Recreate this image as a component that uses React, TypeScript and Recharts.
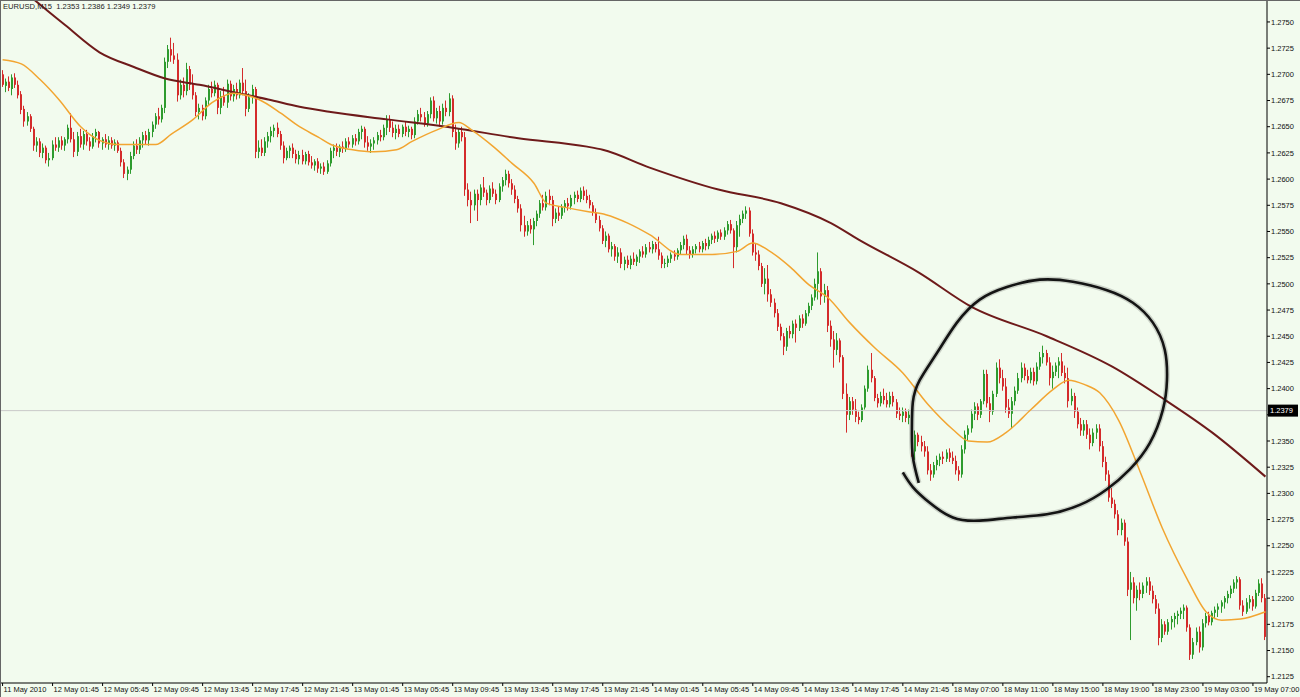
import React from 'react';
import { ComposedChart, Bar, Line, XAxis, YAxis, ReferenceLine } from 'recharts';

const W = 1300;
const H = 697;
const BG = '#F2FBEE';
const UP = '#2E9B2E';
const DOWN = '#D42B2B';
const FAST = '#F2A531';
const SLOW = '#6E1A1A';
const FONT = '"Liberation Sans", Arial, sans-serif';

const TITLE = 'EURUSD,M15  1.2353 1.2386 1.2349 1.2379';
const CURRENT_PRICE = 1.2379;

const xTickBars = [0, 16, 32, 48, 64, 80, 96, 112, 128, 144, 160, 176, 192, 208, 224, 240, 256, 272, 288, 304, 320, 336, 352, 368, 384, 400];
const xTickLabels = ['11 May 2010', '12 May 01:45', '12 May 05:45', '12 May 09:45', '12 May 13:45', '12 May 17:45', '12 May 21:45', '13 May 01:45', '13 May 05:45', '13 May 09:45', '13 May 13:45', '13 May 17:45', '13 May 21:45', '14 May 01:45', '14 May 05:45', '14 May 09:45', '14 May 13:45', '14 May 17:45', '14 May 21:45', '18 May 07:00', '18 May 11:00', '18 May 15:00', '18 May 19:00', '18 May 23:00', '19 May 03:00', '19 May 07:00'];
const yTicks = [1.2125, 1.215, 1.2175, 1.22, 1.2225, 1.225, 1.2275, 1.23, 1.2325, 1.235, 1.2375, 1.24, 1.2425, 1.245, 1.2475, 1.25, 1.2525, 1.255, 1.2575, 1.26, 1.2625, 1.265, 1.2675, 1.27, 1.2725, 1.275];

const openP = [
1.2700,1.2689,1.2693,1.2686,1.2697,1.2690,1.2681,1.2667,1.2655,1.2660,1.2648,1.2632,1.2636,1.2625,1.2630,1.2618,
1.2620,1.2633,1.2630,1.2637,1.2632,1.2638,1.2649,1.2638,1.2626,1.2641,1.2633,1.2643,1.2636,1.2631,1.2641,1.2645,
1.2634,1.2638,1.2633,1.2637,1.2632,1.2635,1.2627,1.2616,1.2605,1.2609,1.2622,1.2632,1.2628,1.2637,1.2642,1.2637,
1.2645,1.2652,1.2660,1.2657,1.2668,1.2712,1.2724,1.2718,1.2714,1.2680,1.2690,1.2684,1.2705,1.2690,1.2680,1.2664,
1.2668,1.2660,1.2675,1.2686,1.2682,1.2690,1.2668,1.2679,1.2673,1.2691,1.2679,1.2686,1.2680,1.2692,1.2684,1.2667,
1.2678,1.2686,1.2626,1.2630,1.2625,1.2636,1.2641,1.2646,1.2649,1.2643,1.2632,1.2620,1.2627,1.2630,1.2624,1.2619,
1.2623,1.2617,1.2624,1.2616,1.2613,1.2617,1.2610,1.2612,1.2607,1.2615,1.2627,1.2630,1.2626,1.2631,1.2629,1.2636,
1.2633,1.2639,1.2636,1.2645,1.2648,1.2635,1.2631,1.2634,1.2637,1.2642,1.2640,1.2649,1.2657,1.2649,1.2644,1.2648,
1.2643,1.2650,1.2645,1.2648,1.2642,1.2655,1.2662,1.2659,1.2653,1.2662,1.2675,1.2658,1.2665,1.2655,1.2668,1.2664,
1.2677,1.2645,1.2634,1.2645,1.2640,1.2590,1.2580,1.2575,1.2586,1.2580,1.2592,1.2587,1.2580,1.2591,1.2586,1.2580,
1.2593,1.2599,1.2605,1.2596,1.2590,1.2581,1.2572,1.2556,1.2550,1.2556,1.2552,1.2560,1.2567,1.2577,1.2573,1.2584,
1.2580,1.2562,1.2568,1.2565,1.2573,1.2577,1.2574,1.2582,1.2585,1.2581,1.2589,1.2584,1.2580,1.2575,1.2568,1.2561,
1.2553,1.2541,1.2546,1.2533,1.2536,1.2526,1.2530,1.2519,1.2523,1.2518,1.2524,1.2521,1.2526,1.2531,1.2528,1.2535,
1.2533,1.2538,1.2533,1.2527,1.2519,1.2520,1.2524,1.2528,1.2526,1.2532,1.2537,1.2543,1.2532,1.2528,1.2533,1.2536,
1.2533,1.2539,1.2536,1.2542,1.2546,1.2543,1.2549,1.2545,1.2551,1.2557,1.2551,1.2535,1.2556,1.2562,1.2567,1.2570,
1.2548,1.2530,1.2528,1.2517,1.2500,1.2505,1.2490,1.2482,1.2472,1.2459,1.2450,1.2440,1.2455,1.2452,1.2462,1.2458,
1.2467,1.2462,1.2472,1.2479,1.2487,1.2500,1.2512,1.2488,1.2494,1.2460,1.2447,1.2437,1.2446,1.2430,1.2395,1.2375,
1.2388,1.2380,1.2373,1.2370,1.2382,1.2400,1.2418,1.2410,1.2391,1.2386,1.2393,1.2389,1.2385,1.2393,1.2387,1.2376,
1.2374,1.2378,1.2372,1.2375,1.2340,1.2356,1.2349,1.2345,1.2340,1.2322,1.2318,1.2327,1.2332,1.2335,1.2333,1.2339,
1.2334,1.2331,1.2322,1.2318,1.2342,1.2356,1.2362,1.2376,1.2383,1.2375,1.2388,1.2414,1.2386,1.2378,1.2395,1.2420,
1.2410,1.2402,1.2382,1.2376,1.2388,1.2398,1.2410,1.2420,1.2412,1.2408,1.2416,1.2407,1.2421,1.2430,1.2434,1.2425,
1.2410,1.2416,1.2422,1.2426,1.2415,1.2410,1.2388,1.2393,1.2378,1.2366,1.2360,1.2366,1.2356,1.2348,1.2358,1.2362,
1.2345,1.2330,1.2318,1.2296,1.2290,1.2280,1.2265,1.2272,1.2254,1.2208,1.2215,1.2200,1.2208,1.2204,1.2212,1.2216,
1.2207,1.2199,1.2190,1.2162,1.2175,1.2168,1.2177,1.2180,1.2183,1.2185,1.2188,1.2191,1.2172,1.2146,1.2158,1.2168,
1.2153,1.2176,1.2183,1.2177,1.2186,1.2189,1.2192,1.2196,1.2200,1.2204,1.2209,1.2215,1.2218,1.2193,1.2187,1.2196,
1.2199,1.2192,1.2205,1.2214,1.2200,
];

const highP = [
1.2704,1.2696,1.2698,1.2700,1.2701,1.2694,1.2684,1.2670,1.2664,1.2662,1.2650,1.2640,1.2639,1.2634,1.2632,1.2625,
1.2637,1.2640,1.2640,1.2641,1.2640,1.2652,1.2663,1.2645,1.2645,1.2648,1.2646,1.2647,1.2640,1.2644,1.2648,1.2646,
1.2640,1.2643,1.2641,1.2640,1.2638,1.2637,1.2630,1.2619,1.2612,1.2626,1.2636,1.2638,1.2640,1.2645,1.2646,1.2648,
1.2655,1.2663,1.2668,1.2671,1.2716,1.2728,1.2735,1.2730,1.2720,1.2695,1.2697,1.2711,1.2708,1.2700,1.2683,1.2672,
1.2671,1.2678,1.2690,1.2693,1.2694,1.2692,1.2684,1.2688,1.2695,1.2694,1.2690,1.2692,1.2695,1.2706,1.2695,1.2682,
1.2690,1.2688,1.2637,1.2638,1.2640,1.2645,1.2650,1.2652,1.2654,1.2646,1.2636,1.2630,1.2632,1.2634,1.2628,1.2627,
1.2628,1.2626,1.2627,1.2622,1.2619,1.2620,1.2615,1.2616,1.2618,1.2630,1.2633,1.2634,1.2633,1.2636,1.2639,1.2640,
1.2642,1.2643,1.2648,1.2651,1.2650,1.2641,1.2638,1.2640,1.2645,1.2647,1.2652,1.2661,1.2661,1.2655,1.2652,1.2652,
1.2652,1.2655,1.2651,1.2650,1.2659,1.2666,1.2668,1.2664,1.2665,1.2678,1.2679,1.2668,1.2670,1.2672,1.2675,1.2682,
1.2680,1.2652,1.2648,1.2650,1.2645,1.2596,1.2588,1.2590,1.2590,1.2595,1.2602,1.2590,1.2594,1.2597,1.2590,1.2596,
1.2602,1.2609,1.2608,1.2600,1.2594,1.2584,1.2576,1.2565,1.2560,1.2562,1.2563,1.2570,1.2580,1.2585,1.2588,1.2590,
1.2584,1.2572,1.2574,1.2576,1.2580,1.2582,1.2585,1.2588,1.2589,1.2592,1.2593,1.2590,1.2585,1.2578,1.2572,1.2565,
1.2556,1.2550,1.2548,1.2540,1.2538,1.2535,1.2534,1.2526,1.2527,1.2527,1.2530,1.2528,1.2533,1.2536,1.2538,1.2540,
1.2541,1.2540,1.2545,1.2530,1.2524,1.2527,1.2530,1.2532,1.2534,1.2540,1.2546,1.2547,1.2536,1.2536,1.2538,1.2540,
1.2541,1.2543,1.2545,1.2548,1.2550,1.2551,1.2552,1.2554,1.2560,1.2561,1.2553,1.2560,1.2566,1.2570,1.2574,1.2573,
1.2552,1.2538,1.2532,1.2520,1.2515,1.2518,1.2495,1.2486,1.2476,1.2462,1.2453,1.2458,1.2460,1.2465,1.2466,1.2470,
1.2471,1.2475,1.2482,1.2490,1.2505,1.2530,1.2515,1.2500,1.2498,1.2465,1.2455,1.2453,1.2448,1.2432,1.2405,1.2392,
1.2392,1.2390,1.2378,1.2385,1.2403,1.2422,1.2434,1.2412,1.2395,1.2397,1.2400,1.2396,1.2397,1.2397,1.2390,1.2382,
1.2382,1.2381,1.2380,1.2377,1.2360,1.2358,1.2355,1.2350,1.2345,1.2328,1.2330,1.2336,1.2338,1.2340,1.2342,1.2343,
1.2340,1.2336,1.2326,1.2346,1.2360,1.2365,1.2380,1.2387,1.2386,1.2390,1.2418,1.2418,1.2392,1.2398,1.2425,1.2428,
1.2418,1.2410,1.2390,1.2392,1.2402,1.2415,1.2425,1.2424,1.2418,1.2420,1.2420,1.2425,1.2435,1.2441,1.2437,1.2430,
1.2422,1.2425,1.2430,1.2434,1.2422,1.2420,1.2400,1.2396,1.2382,1.2372,1.2370,1.2370,1.2362,1.2362,1.2366,1.2366,
1.2350,1.2335,1.2322,1.2305,1.2294,1.2284,1.2276,1.2275,1.2258,1.2225,1.2220,1.2212,1.2215,1.2215,1.2220,1.2220,
1.2212,1.2203,1.2195,1.2180,1.2178,1.2180,1.2183,1.2186,1.2188,1.2191,1.2194,1.2193,1.2175,1.2162,1.2172,1.2173,
1.2180,1.2186,1.2187,1.2188,1.2192,1.2195,1.2198,1.2202,1.2207,1.2212,1.2218,1.2221,1.2220,1.2198,1.2200,1.2203,
1.2202,1.2208,1.2218,1.2219,1.2204,
];

const lowP = [
1.2688,1.2683,1.2684,1.2680,1.2687,1.2677,1.2662,1.2650,1.2651,1.2645,1.2627,1.2626,1.2621,1.2620,1.2615,1.2612,
1.2618,1.2627,1.2626,1.2628,1.2627,1.2634,1.2635,1.2621,1.2622,1.2630,1.2628,1.2632,1.2627,1.2629,1.2635,1.2630,
1.2628,1.2630,1.2628,1.2629,1.2627,1.2625,1.2612,1.2601,1.2599,1.2605,1.2619,1.2624,1.2624,1.2630,1.2633,1.2632,
1.2640,1.2648,1.2652,1.2654,1.2663,1.2706,1.2712,1.2710,1.2674,1.2676,1.2678,1.2680,1.2685,1.2676,1.2660,1.2657,
1.2656,1.2657,1.2670,1.2678,1.2679,1.2662,1.2662,1.2670,1.2668,1.2675,1.2674,1.2676,1.2677,1.2680,1.2660,1.2664,
1.2672,1.2620,1.2620,1.2622,1.2622,1.2630,1.2635,1.2640,1.2640,1.2628,1.2615,1.2618,1.2620,1.2620,1.2615,1.2614,
1.2614,1.2614,1.2613,1.2610,1.2608,1.2606,1.2605,1.2604,1.2605,1.2612,1.2620,1.2622,1.2621,1.2625,1.2626,1.2630,
1.2630,1.2632,1.2633,1.2638,1.2630,1.2627,1.2625,1.2628,1.2633,1.2636,1.2637,1.2642,1.2645,1.2640,1.2638,1.2640,
1.2640,1.2641,1.2640,1.2638,1.2639,1.2652,1.2655,1.2650,1.2650,1.2658,1.2655,1.2653,1.2650,1.2652,1.2660,1.2660,
1.2640,1.2628,1.2630,1.2636,1.2584,1.2574,1.2558,1.2570,1.2560,1.2575,1.2583,1.2575,1.2577,1.2583,1.2576,1.2578,
1.2588,1.2594,1.2592,1.2585,1.2577,1.2568,1.2550,1.2545,1.2546,1.2548,1.2537,1.2555,1.2563,1.2570,1.2570,1.2575,
1.2555,1.2558,1.2560,1.2562,1.2568,1.2570,1.2571,1.2576,1.2578,1.2578,1.2580,1.2577,1.2572,1.2565,1.2558,1.2550,
1.2538,1.2535,1.2530,1.2526,1.2522,1.2520,1.2515,1.2513,1.2515,1.2514,1.2518,1.2517,1.2520,1.2525,1.2525,1.2530,
1.2529,1.2530,1.2523,1.2515,1.2515,1.2516,1.2520,1.2522,1.2523,1.2528,1.2533,1.2528,1.2524,1.2525,1.2529,1.2530,
1.2530,1.2532,1.2533,1.2538,1.2539,1.2540,1.2542,1.2542,1.2547,1.2548,1.2515,1.2530,1.2545,1.2558,1.2562,1.2545,
1.2527,1.2522,1.2513,1.2497,1.2490,1.2483,1.2478,1.2468,1.2455,1.2446,1.2432,1.2436,1.2448,1.2448,1.2444,1.2455,
1.2458,1.2460,1.2469,1.2475,1.2484,1.2485,1.2480,1.2482,1.2454,1.2440,1.2420,1.2432,1.2425,1.2390,1.2358,1.2370,
1.2375,1.2368,1.2366,1.2368,1.2380,1.2397,1.2406,1.2388,1.2382,1.2383,1.2385,1.2382,1.2382,1.2383,1.2372,1.2370,
1.2368,1.2368,1.2366,1.2335,1.2332,1.2345,1.2340,1.2335,1.2318,1.2312,1.2315,1.2322,1.2326,1.2328,1.2330,1.2330,
1.2328,1.2318,1.2312,1.2315,1.2338,1.2350,1.2358,1.2370,1.2370,1.2372,1.2385,1.2382,1.2368,1.2375,1.2392,1.2405,
1.2398,1.2377,1.2372,1.2362,1.2384,1.2395,1.2406,1.2408,1.2405,1.2405,1.2403,1.2404,1.2418,1.2424,1.2422,1.2403,
1.2400,1.2412,1.2410,1.2412,1.2405,1.2382,1.2384,1.2372,1.2362,1.2355,1.2355,1.2352,1.2342,1.2345,1.2352,1.2340,
1.2325,1.2312,1.2292,1.2286,1.2276,1.2260,1.2260,1.2250,1.2202,1.2160,1.2195,1.2188,1.2198,1.2200,1.2205,1.2203,
1.2195,1.2185,1.2155,1.2158,1.2165,1.2165,1.2170,1.2172,1.2175,1.2180,1.2180,1.2168,1.2141,1.2142,1.2155,1.2148,
1.2150,1.2172,1.2174,1.2174,1.2180,1.2182,1.2186,1.2190,1.2195,1.2200,1.2205,1.2209,1.2189,1.2183,1.2185,1.2190,
1.2188,1.2190,1.2202,1.2196,1.2160,
];

const closeP = [
1.2690,1.2693,1.2687,1.2697,1.2690,1.2680,1.2666,1.2655,1.2660,1.2648,1.2632,1.2636,1.2625,1.2630,1.2618,1.2620,
1.2633,1.2630,1.2637,1.2632,1.2638,1.2649,1.2638,1.2626,1.2641,1.2633,1.2643,1.2636,1.2631,1.2641,1.2645,1.2634,
1.2638,1.2633,1.2637,1.2632,1.2635,1.2627,1.2616,1.2605,1.2609,1.2622,1.2632,1.2628,1.2637,1.2642,1.2637,1.2645,
1.2652,1.2660,1.2657,1.2668,1.2712,1.2724,1.2718,1.2714,1.2680,1.2690,1.2684,1.2705,1.2690,1.2680,1.2664,1.2668,
1.2660,1.2675,1.2686,1.2682,1.2690,1.2668,1.2679,1.2673,1.2691,1.2679,1.2686,1.2680,1.2692,1.2684,1.2667,1.2678,
1.2686,1.2626,1.2630,1.2625,1.2636,1.2641,1.2646,1.2649,1.2643,1.2632,1.2620,1.2627,1.2630,1.2624,1.2619,1.2623,
1.2617,1.2624,1.2616,1.2613,1.2617,1.2610,1.2612,1.2607,1.2615,1.2627,1.2630,1.2626,1.2631,1.2629,1.2636,1.2633,
1.2639,1.2636,1.2645,1.2648,1.2635,1.2631,1.2634,1.2637,1.2642,1.2640,1.2649,1.2657,1.2649,1.2644,1.2648,1.2643,
1.2650,1.2645,1.2648,1.2642,1.2655,1.2662,1.2659,1.2653,1.2662,1.2675,1.2658,1.2665,1.2655,1.2668,1.2664,1.2677,
1.2645,1.2634,1.2645,1.2640,1.2590,1.2580,1.2575,1.2586,1.2580,1.2592,1.2587,1.2580,1.2591,1.2586,1.2580,1.2593,
1.2599,1.2605,1.2596,1.2590,1.2581,1.2572,1.2556,1.2550,1.2556,1.2552,1.2560,1.2567,1.2577,1.2573,1.2584,1.2580,
1.2562,1.2568,1.2565,1.2573,1.2577,1.2574,1.2582,1.2585,1.2581,1.2589,1.2584,1.2580,1.2575,1.2568,1.2561,1.2553,
1.2541,1.2546,1.2533,1.2536,1.2526,1.2530,1.2519,1.2523,1.2518,1.2524,1.2521,1.2526,1.2531,1.2528,1.2535,1.2533,
1.2538,1.2533,1.2527,1.2519,1.2520,1.2524,1.2528,1.2526,1.2532,1.2537,1.2543,1.2532,1.2528,1.2533,1.2536,1.2533,
1.2539,1.2536,1.2542,1.2546,1.2543,1.2549,1.2545,1.2551,1.2557,1.2551,1.2535,1.2556,1.2562,1.2567,1.2570,1.2548,
1.2530,1.2528,1.2517,1.2500,1.2505,1.2490,1.2482,1.2472,1.2459,1.2450,1.2440,1.2455,1.2452,1.2462,1.2458,1.2467,
1.2462,1.2472,1.2479,1.2487,1.2500,1.2512,1.2488,1.2494,1.2460,1.2447,1.2437,1.2446,1.2430,1.2395,1.2375,1.2388,
1.2380,1.2373,1.2370,1.2382,1.2400,1.2418,1.2410,1.2391,1.2386,1.2393,1.2389,1.2385,1.2393,1.2387,1.2376,1.2374,
1.2378,1.2372,1.2375,1.2340,1.2356,1.2349,1.2345,1.2340,1.2322,1.2318,1.2327,1.2332,1.2335,1.2333,1.2339,1.2334,
1.2331,1.2322,1.2318,1.2342,1.2356,1.2362,1.2376,1.2383,1.2375,1.2388,1.2414,1.2386,1.2378,1.2395,1.2420,1.2410,
1.2402,1.2382,1.2376,1.2388,1.2398,1.2410,1.2420,1.2412,1.2408,1.2416,1.2407,1.2421,1.2430,1.2434,1.2425,1.2410,
1.2416,1.2422,1.2426,1.2415,1.2410,1.2388,1.2393,1.2378,1.2366,1.2360,1.2366,1.2356,1.2348,1.2358,1.2362,1.2345,
1.2330,1.2318,1.2296,1.2290,1.2280,1.2265,1.2272,1.2254,1.2208,1.2215,1.2200,1.2208,1.2204,1.2212,1.2216,1.2207,
1.2199,1.2190,1.2162,1.2175,1.2168,1.2177,1.2180,1.2183,1.2185,1.2188,1.2191,1.2172,1.2146,1.2158,1.2168,1.2153,
1.2176,1.2183,1.2177,1.2186,1.2189,1.2192,1.2196,1.2200,1.2204,1.2209,1.2215,1.2218,1.2193,1.2187,1.2196,1.2199,
1.2192,1.2205,1.2214,1.2200,1.2163,
];

// Moving averages at these bar positions
const fastMaBar = [0,6,12,18,25,31,37,44,49,54,61,67,74,78,82,89,95,101,105,112,119,126,131,139,146,150,157,163,170,174,180,187,193,200,207,217,227,235,240,245,252,258,264,271,279,288,296,304,309,315,321,329,336,341,346,351,357,364,371,379,385,390,396,404];
const fastMaPrice = [1.2714,1.2710,1.2695,1.2676,1.2650,1.2637,1.2633,1.2633,1.2633,1.2643,1.2657,1.2673,1.2682,1.2680,1.2676,1.2663,1.2650,1.2640,1.2633,1.2628,1.2626,1.2628,1.2636,1.2647,1.2654,1.2647,1.2631,1.2615,1.2596,1.2577,1.2573,1.2569,1.2566,1.2558,1.2547,1.2528,1.2528,1.2531,1.2539,1.2532,1.2516,1.2499,1.2487,1.2463,1.2439,1.2415,1.2385,1.2361,1.2350,1.2349,1.2358,1.2380,1.2399,1.2408,1.2404,1.2396,1.2370,1.2320,1.2267,1.2218,1.2187,1.2179,1.2180,1.2187];
const slowMaBar = [0,4,11,20,31,42,52,63,74,85,95,105,123,144,165,187,192,207,229,249,265,274,293,310,334,355,372,387,404];
const slowMaPrice = [1.2798,1.2787,1.2769,1.2747,1.2721,1.2707,1.2696,1.2690,1.2683,1.2676,1.2669,1.2664,1.2657,1.2649,1.2639,1.2631,1.2628,1.2611,1.2590,1.2577,1.2558,1.2542,1.2511,1.2478,1.2450,1.2421,1.2389,1.2358,1.2316];

// Hand-drawn circle annotation, in (bar, price) coordinates
const noteBar = [288.0,291.2,296.6,304.0,312.6,323.2,334.1,344.6,353.3,360.6,367.0,371.2,372.5,371.8,368.0,361.6,353.3,342.4,331.8,321.3,312.6,305.3,298.9,293.4,291.2,290.9,291.2,293.1];
const notePrice = [1.2320,1.2306,1.2291,1.2277,1.2274,1.2277,1.2280,1.2289,1.2304,1.2323,1.2348,1.2380,1.2408,1.2437,1.2463,1.2482,1.2494,1.2502,1.2504,1.2497,1.2485,1.2463,1.2434,1.2408,1.2387,1.2361,1.2335,1.2310];

const candles = openP.map((o, i) => ({ i, o, h: highP[i], l: lowP[i], c: closeP[i], r: [lowP[i], highP[i]] }));
const fastMa = fastMaBar.map((x, k) => ({ x, y: fastMaPrice[k] }));
const slowMa = slowMaBar.map((x, k) => ({ x, y: slowMaPrice[k] }));
const note = noteBar.map((x, k) => ({ x, y: notePrice[k] }));

const Candle = (props: any) => {
  const { x, y, width, height, payload } = props;
  if (!payload || x == null || y == null || isNaN(y)) return null;
  const { o, h, l, c } = payload;
  const top = Math.min(y, y + height);
  const hh = Math.abs(height);
  const range = h - l;
  const pos = (v: number) => (range > 0 ? top + ((h - v) / range) * hh : top);
  const color = c >= o ? UP : DOWN;
  const cx = Math.round(x + width / 2);
  const yo = pos(o);
  const yc = pos(c);
  const bTop = Math.min(yo, yc);
  const bH = Math.max(1, Math.abs(yo - yc));
  return (
    <g>
      <rect x={cx - 1} y={top} width={1} height={Math.max(1, hh)} fill={color} />
      <rect x={cx - 1} y={bTop} width={2} height={bH} fill={color} />
    </g>
  );
};

const XTick = (p: any) => {
  const { x, y, payload } = p;
  const k = xTickBars.indexOf(Number(payload?.value));
  if (k < 0) return null;
  return (
    <text x={x + 1} y={y} dy="0.71em" fontSize={7.5} fill="#111" textAnchor="start" fontFamily={FONT}>
      {xTickLabels[k]}
    </text>
  );
};

// y tick label hidden where the current-price tag sits on top of it
const yTickText = (v: number) => (Math.abs(v - CURRENT_PRICE) < 0.0008 ? '' : v.toFixed(4));

const PriceTag = (p: any) => {
  const vb = p.viewBox;
  if (!vb) return null;
  const x = vb.x + vb.width + 1;
  const y = vb.y;
  return (
    <g>
      <rect x={x} y={y - 6} width={30} height={12} fill="#000" />
      <text x={x + 2} y={y} dy="0.35em" fontSize={7.5} fill="#fff" fontFamily={FONT}>
        {CURRENT_PRICE.toFixed(4)}
      </text>
    </g>
  );
};

export default function App() {
  return (
    <div
      style={{
        position: 'absolute',
        left: 0,
        top: 0,
        width: W,
        height: H,
        background: BG,
        fontFamily: FONT,
        overflow: 'hidden',
      }}
    >
      <ComposedChart
        width={W}
        height={H}
        data={candles}
        margin={{ top: 1, right: 0, bottom: 0, left: 1 }}
        barCategoryGap={0}
        barGap={0}
      >
        <XAxis
          xAxisId="c"
          dataKey="i"
          type="category"
          interval={15}
          height={14}
          tickSize={3}
          tickMargin={1}
          axisLine={{ stroke: '#000' }}
          tickLine={{ stroke: '#000' }}
          tick={<XTick />}
        />
        <XAxis xAxisId="n" dataKey="x" type="number" domain={[-0.5, 404.5]} allowDataOverflow hide />
        <YAxis
          yAxisId="p"
          orientation="right"
          domain={[1.2119, 1.277]}
          allowDataOverflow
          ticks={yTicks}
          interval={0}
          width={33}
          tickSize={3}
          tickMargin={1}
          tickFormatter={yTickText}
          tick={{ fontSize: 7.5, fill: '#111', fontFamily: FONT }}
          axisLine={{ stroke: '#000' }}
          tickLine={{ stroke: '#000' }}
        />
        <ReferenceLine xAxisId="c" yAxisId="p" y={CURRENT_PRICE} stroke="#C9C9C9" strokeWidth={1} label={<PriceTag />} />
        <Bar xAxisId="c" yAxisId="p" dataKey="r" shape={Candle} isAnimationActive={false} />
        <Line xAxisId="n" yAxisId="p" data={slowMa} dataKey="y" type="monotone" stroke={SLOW} strokeWidth={2} dot={false} activeDot={false} isAnimationActive={false} />
        <Line xAxisId="n" yAxisId="p" data={fastMa} dataKey="y" type="monotone" stroke={FAST} strokeWidth={1.5} dot={false} activeDot={false} isAnimationActive={false} />
        <Line xAxisId="n" yAxisId="p" data={note} dataKey="y" type="natural" stroke="rgba(0,0,0,0.16)" strokeWidth={5.5} dot={false} activeDot={false} isAnimationActive={false} />
        <Line xAxisId="n" yAxisId="p" data={note} dataKey="y" type="natural" stroke="#141414" strokeWidth={2.6} dot={false} activeDot={false} isAnimationActive={false} />
      </ComposedChart>
      <div
        style={{
          position: 'absolute',
          left: 0,
          top: 0,
          width: W,
          height: H,
          borderTop: '1px solid #666',
          borderLeft: '1px solid #666',
          boxSizing: 'border-box',
          pointerEvents: 'none',
        }}
      />
      <div
        style={{
          position: 'absolute',
          left: 3,
          top: 2,
          fontSize: 7.6,
          lineHeight: '10px',
          color: '#222',
          whiteSpace: 'pre',
        }}
      >
        {TITLE}
      </div>
    </div>
  );
}
